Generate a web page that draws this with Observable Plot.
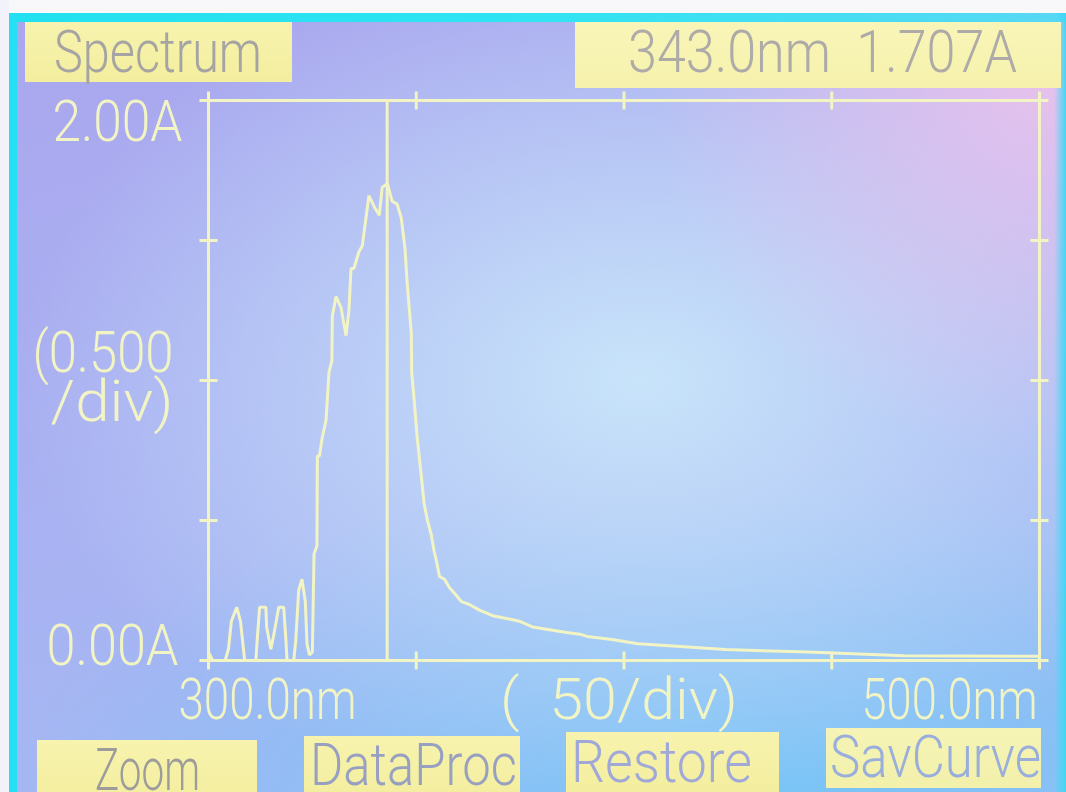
<!DOCTYPE html>
<html>
<head>
<meta charset="utf-8">
<script src="https://cdn.jsdelivr.net/npm/d3@7"></script>
<script src="https://cdn.jsdelivr.net/npm/@observablehq/plot@0.6"></script>
<style>
html, body { margin: 0; padding: 0; background: #f8f8fb; }
#screen {
  position: relative; width: 1066px; height: 792px; overflow: hidden;
  background:
    radial-gradient(circle at 100% 6%, rgba(240,196,236,0.95) 0, rgba(240,196,236,0) 420px),
    radial-gradient(ellipse 620px 430px at 60% 48%, rgba(200,228,250,1) 0, rgba(200,228,250,0) 100%),
    radial-gradient(ellipse 760px 320px at 72% 100%, rgba(120,196,246,1) 0, rgba(120,196,246,0) 100%),
    linear-gradient(165deg, #aaa6ee 0%, #a9b2f2 50%, #a0bcf4 100%);
}
.strip { position: absolute; }
.box { position: absolute; background: linear-gradient(180deg, #f7f3ae, #f3ee9e); }
.lbl {
  position: absolute; white-space: pre; font-family: Roboto, "Noto Sans", sans-serif;
  font-weight: 300; font-size: 60px; line-height: 60px; transform-origin: 0 0;
}
#chart { position: absolute; left: 0; top: 0; }
</style>
</head>
<body>
<div id="screen">
  <div class="strip" style="left:0;top:0;width:1066px;height:13px;background:#f8f8fb"></div>
  <div class="strip" style="left:0;top:13px;width:1066px;height:9px;background:linear-gradient(90deg,#22e0f0,#30e4f2,#58d8f4)"></div>
  <div class="strip" style="left:0;top:0;width:9px;height:792px;background:#f2f2fa"></div>
  <div class="strip" style="left:9px;top:13px;width:8px;height:779px;background:#26dff2"></div>
  <div class="strip" style="left:1054px;top:13px;width:12px;height:779px;background:linear-gradient(90deg,rgba(60,210,244,0),#40d8f4)"></div>
  <div class="box" style="left:25px;top:22px;width:267px;height:60px"></div>
  <div class="box" style="left:575px;top:22px;width:486px;height:66px;background:linear-gradient(180deg,#f8f5b8,#f6f2ac)"></div>
  <div class="box" style="left:37px;top:740px;width:220px;height:60px"></div>
  <div class="box" style="left:304px;top:736px;width:216px;height:60px"></div>
  <div class="box" style="left:566px;top:732px;width:213px;height:60px"></div>
  <div class="box" style="left:826px;top:728px;width:215px;height:60px;background:linear-gradient(180deg,#f5f4b6,#f2f0aa)"></div>
  <div id="chart"></div>
</div>
<script>
const xDomain = [300, 500];            // nm
const yDomain = [0, 2];                // absorbance (A)
const xTicks = [300, 350, 400, 450, 500];
const yTicks = [0, 0.5, 1, 1.5, 2];
const cursorNm = 343.0;
const cursorAbs = 1.707;
const xStepLabel = "(\u00a0\u00a050/div)";
const yStepLabel = "(0.500\n/div)";
const screenTitle = "Spectrum";
const buttons = ["Zoom", "DataProc", "Restore", "SavCurve"];

const wavelength = [
  300, 301, 304, 304.8, 305.5, 306.8, 307.7, 308.2, 308.7, 311.4, 311.7, 312.3, 313.8, 314.0, 315.0,
  315.7, 316.9, 318.1, 318.6, 318.9, 320.5, 321.0, 321.7, 322.5, 323.3, 323.7, 324.3, 325.0, 325.4,
  326.1, 326.2, 326.7, 327.3, 328.3, 329.0, 329.7, 329.8, 330.7, 331.9, 333.1, 333.8, 334.3, 335.0,
  336.2, 337.0, 337.9, 338.6, 339.9, 341.1, 341.8, 342.8, 343.0, 344.2, 345.4, 346.4, 347.3, 347.8,
  348.8, 348.9, 349.5, 350.2, 351.2, 351.9, 352.7, 353.6, 354.3, 354.8, 355.6, 356.8, 358.0, 359.2,
  360.9, 362.8, 365.2, 368.4, 371.7, 374.9, 378.0, 382.1, 386.2, 389.4, 391.1, 397.1, 403.4, 411.8,
  424.4, 444.2, 467.4, 500.0
];
const absorbance = [
  0.03, 0.0, 0.0, 0.04, 0.14, 0.19, 0.14, 0.07, 0.0, 0.0, 0.07, 0.19, 0.19, 0.12, 0.04,
  0.09, 0.19, 0.19, 0.08, 0.0, 0.0, 0.07, 0.25, 0.29, 0.21, 0.06, 0.02, 0.03, 0.38,
  0.41, 0.73, 0.73, 0.79, 0.86, 1.03, 1.07, 1.23, 1.30, 1.26, 1.16, 1.25, 1.40, 1.40,
  1.46, 1.48, 1.58, 1.66, 1.62, 1.59, 1.69, 1.70, 1.707, 1.64, 1.63, 1.58, 1.47, 1.35,
  1.17, 1.03, 0.93, 0.80, 0.66, 0.56, 0.50, 0.45, 0.39, 0.36, 0.30, 0.29, 0.26, 0.24,
  0.21, 0.20, 0.18, 0.16, 0.15, 0.14, 0.12, 0.11, 0.10, 0.094, 0.086, 0.075, 0.06, 0.052,
  0.039, 0.030, 0.017, 0.015
];
const spectrum = wavelength.map((w, i) => ({w, a: absorbance[i]}));

// ---- styling ----
const LCD = "#f2f4c4";
const FONT = "Roboto, 'Noto Sans', sans-serif";
const hline = {draw(ctx, size) { const r = Math.sqrt(size / Math.PI); ctx.moveTo(-r, 0); ctx.lineTo(r, 0); }};
const vline = {draw(ctx, size) { const r = Math.sqrt(size / Math.PI); ctx.moveTo(0, -r); ctx.lineTo(0, r); }};
const txt = {fontSize: 58, fontFamily: FONT, fontWeight: 300, fill: LCD};

const chart = Plot.plot({
  width: 1066, height: 792,
  marginLeft: 208, marginRight: 27, marginTop: 100, marginBottom: 132,
  x: {domain: xDomain},
  y: {domain: yDomain},
  style: {background: "transparent", overflow: "visible"},
  marks: [
    Plot.frame({stroke: LCD, strokeWidth: 3}),
    Plot.dot(yTicks, {x: xDomain[0], y: d => d, symbol: hline, r: 9, fill: "none", stroke: LCD, strokeWidth: 3}),
    Plot.dot(yTicks, {x: xDomain[1], y: d => d, symbol: hline, r: 9, fill: "none", stroke: LCD, strokeWidth: 3}),
    Plot.dot(xTicks, {x: d => d, y: yDomain[0], symbol: vline, r: 9, fill: "none", stroke: LCD, strokeWidth: 3}),
    Plot.dot(xTicks, {x: d => d, y: yDomain[1], symbol: vline, r: 9, fill: "none", stroke: LCD, strokeWidth: 3}),
    Plot.ruleX([cursorNm], {stroke: LCD, strokeWidth: 3}),
    Plot.line(spectrum, {x: "w", y: "a", stroke: LCD, strokeWidth: 3, strokeLinejoin: "miter"}),
    Plot.axisY([yDomain[1]], {anchor: "left", tickSize: 0, tickPadding: 26, dy: 22, label: null,
      tickFormat: d => d.toFixed(2) + "A", ...txt}),
    Plot.axisY([yDomain[0]], {anchor: "left", tickSize: 0, tickPadding: 30, dy: -14, label: null,
      tickFormat: d => d.toFixed(2) + "A", ...txt}),
    Plot.axisX([xDomain[0]], {anchor: "bottom", tickSize: 0, tickPadding: 17, dx: -30, textAnchor: "start", label: null,
      tickFormat: d => d.toFixed(1) + "nm", ...txt}),
    Plot.axisX([xDomain[1]], {anchor: "bottom", tickSize: 0, tickPadding: 17, dx: -2, textAnchor: "end", label: null,
      tickFormat: d => d.toFixed(1) + "nm", ...txt}),
    Plot.text([xStepLabel], {frameAnchor: "bottom", lineAnchor: "top", dx: -5, dy: 17, text: d => d, ...txt}),
    Plot.text([yStepLabel], {frameAnchor: "left", textAnchor: "end", dx: -35, lineHeight: 0.86, text: d => d, ...txt})
  ]
});
document.getElementById("chart").appendChild(chart);

// compress the LCD characters horizontally to the screen's narrow cell width
const widths = {
  "2.00A": 130, "0.00A": 132, "300.0nm": 178, "500.0nm": 176,
  [xStepLabel]: 238, "(0.500": 141, "/div)": 123
};
chart.querySelectorAll("text").forEach(t => {
  const spans = t.querySelectorAll("tspan");
  const targets = spans.length ? Array.from(spans) : [t];
  targets.forEach(el => {
    const w = widths[el.textContent];
    if (w) { el.setAttribute("textLength", w); el.setAttribute("lengthAdjust", "spacingAndGlyphs"); }
  });
});

// ---- screen labels in the yellow boxes ----
const screen = document.getElementById("screen");
function label(text, left, capTop, width, color) {
  const s = document.createElement("span");
  s.className = "lbl";
  s.textContent = text;
  s.style.left = left + "px";
  s.style.top = (capTop - 8) + "px";
  s.style.color = color;
  screen.appendChild(s);
  const w = s.getBoundingClientRect().width;
  s.style.transform = `scaleX(${width / w})`;
}
label(screenTitle, 54, 30, 208, "#a6a4a2");
label(`${cursorNm.toFixed(1)}nm\u00a0\u00a0${cursorAbs.toFixed(3)}A`, 628, 30, 389, "#aeaaa8");
label(buttons[0], 95, 748, 105, "#9e9c9a");
label(buttons[1], 310, 743, 207, "#98a0c2");
label(buttons[2], 571, 740, 181, "#a0a8d8");
label(buttons[3], 830, 735, 211, "#9aaedc");
</script>
</body>
</html>
